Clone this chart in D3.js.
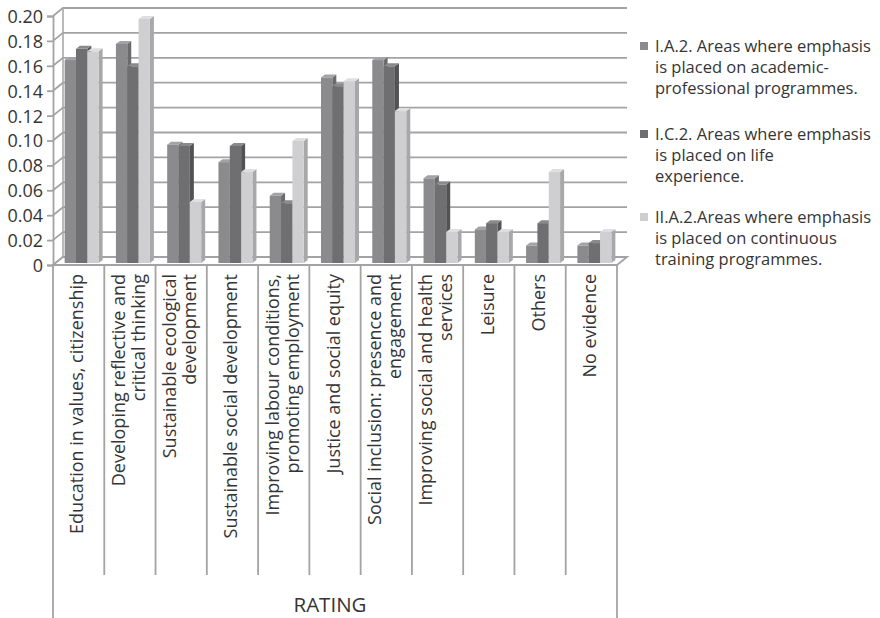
<!DOCTYPE html>
<html>
<head>
<meta charset="utf-8">
<script src="https://cdn.jsdelivr.net/npm/d3@7"></script>
<style>
  html, body { margin: 0; padding: 0; background: #fff; }
  svg { display: block; font-family: "Open Sans", "DejaVu Sans", sans-serif; }
</style>
</head>
<body>
<svg id="chart" width="880" height="618"></svg>
<script>
// Categories (each entry lists the lines of its rotated label)
const categories = [
  ["Education in values, citizenship"],
  ["Developing reflective and", "critical thinking"],
  ["Sustainable ecological", "development"],
  ["Sustainable social development"],
  ["Improving labour conditions,", "promoting employment"],
  ["Justice and social equity"],
  ["Social inclusion: presence and", "engagement"],
  ["Improving social and health", "services"],
  ["Leisure"],
  ["Others"],
  ["No evidence"]
];

const seriesNames = [
  ["I.A.2. Areas where emphasis", "is placed on academic-", "professional programmes."],
  ["I.C.2. Areas where emphasis", "is placed on life", "experience."],
  ["II.A.2.Areas where emphasis", "is placed on continuous", "training programmes."]
];

const academicValues   = [0.163, 0.176, 0.095, 0.081, 0.054, 0.149, 0.163, 0.068, 0.027, 0.014, 0.014];
const lifeValues       = [0.172, 0.158, 0.094, 0.094, 0.048, 0.142, 0.158, 0.063, 0.032, 0.032, 0.016];
const continuousValues = [0.170, 0.196, 0.049, 0.073, 0.098, 0.146, 0.122, 0.025, 0.025, 0.073, 0.025];

const yTicks = [0, 0.02, 0.04, 0.06, 0.08, 0.10, 0.12, 0.14, 0.16, 0.18, 0.20];

const seriesValues = [academicValues, lifeValues, continuousValues];

// Face colours per series: front, side, top
const faces = [
  { front: "#8b8b8d", side: "#6b6b6d", top: "#a3a3a5" },
  { front: "#6f6f71", side: "#525254", top: "#8a8a8c" },
  { front: "#cfcfd1", side: "#a8a8aa", top: "#dfdfe1" }
];

const svg = d3.select("#chart");
const gridColor = "#a3a3a3";
const textColor = "#353535";

// Oblique depth of the plot box
const DX = 10, DY = -8;
const left = 53, right = 617;

const y = d3.scaleLinear().domain([0, 0.20]).range([265, 16]);
const x = d3.scaleBand().domain(d3.range(categories.length)).range([left, right]);

// Back wall gridlines with their side-wall diagonals
const grid = svg.append("g");
yTicks.forEach(t => {
  const yy = y(t);
  grid.append("path")
    .attr("d", `M${left},${yy}L${left + DX},${yy + DY}L${right + DX},${yy + DY}`)
    .attr("fill", "none").attr("stroke", gridColor).attr("stroke-width", 1.8);
});

// Back wall left edge
grid.append("line")
  .attr("x1", left + DX).attr("x2", left + DX)
  .attr("y1", y(0.20) + DY).attr("y2", y(0) + DY)
  .attr("stroke", gridColor).attr("stroke-width", 1.5);

// Floor
grid.append("path")
  .attr("d", `M${left},${y(0)}L${right},${y(0)}L${right + DX},${y(0) + DY}L${left + DX},${y(0) + DY}Z`)
  .attr("fill", "#fff").attr("stroke", gridColor).attr("stroke-width", 1.8);

// Value axis (front edge) with ticks and labels
const yAxis = d3.axisLeft(y).tickValues(yTicks).tickSize(6).tickPadding(4)
  .tickFormat(d => d === 0 ? "0" : d3.format(".2f")(d));
const ya = svg.append("g").attr("transform", `translate(${left},0)`).call(yAxis);
ya.select(".domain").attr("stroke", gridColor).attr("stroke-width", 1.8);
ya.selectAll(".tick line").attr("stroke", gridColor).attr("stroke-width", 1.8);
ya.selectAll(".tick text").attr("fill", textColor).style("font-size", "18px")
  .style("font-family", "'Open Sans', sans-serif").attr("dy", "0.36em");

// Bars
const clusterW = 34;
const inner = d3.scaleBand().domain([0, 1, 2]).range([0, clusterW]);
const bdx = 3, bdy = -2;      // bar plane depth offset
const sdx = 4, sdy = -3;      // bar thickness in depth
const bars = svg.append("g");
categories.forEach((c, i) => {
  const x0 = x(i) + (x.bandwidth() - clusterW) / 2 + bdx;
  seriesValues.forEach((vals, s) => {
    const bx = x0 + inner(s), bw = inner.bandwidth();
    const yb = y(0) + bdy, yt = y(vals[i]) + bdy;
    const f = faces[s];
    bars.append("path")
      .attr("d", `M${bx + bw},${yb}L${bx + bw + sdx},${yb + sdy}L${bx + bw + sdx},${yt + sdy}L${bx + bw},${yt}Z`)
      .attr("fill", f.side);
    bars.append("path")
      .attr("d", `M${bx},${yt}L${bx + sdx},${yt + sdy}L${bx + bw + sdx},${yt + sdy}L${bx + bw},${yt}Z`)
      .attr("fill", f.top);
    bars.append("rect")
      .attr("x", bx).attr("y", yt).attr("width", bw).attr("height", yb - yt)
      .attr("fill", f.front);
  });
});

// Category axis frame below the floor
const catAxis = svg.append("g");
catAxis.append("line").attr("x1", left).attr("x2", left).attr("y1", y(0)).attr("y2", 618)
  .attr("stroke", gridColor).attr("stroke-width", 1.8);
catAxis.append("line").attr("x1", right).attr("x2", right).attr("y1", y(0)).attr("y2", 618)
  .attr("stroke", gridColor).attr("stroke-width", 1.8);
d3.range(1, categories.length).forEach(i => {
  catAxis.append("line").attr("x1", x(i)).attr("x2", x(i)).attr("y1", y(0)).attr("y2", 575)
    .attr("stroke", gridColor).attr("stroke-width", 1.8);
});

// Rotated category labels
const fs = 18, lh = 20;
categories.forEach((lines, i) => {
  const cx = x(i) + x.bandwidth() / 2 - 1.5;
  lines.forEach((ln, j) => {
    const bx = cx + (j - (lines.length - 1) / 2) * lh + 0.35 * fs;
    svg.append("text")
      .attr("transform", `translate(${bx},274) rotate(-90)`)
      .attr("text-anchor", "end")
      .attr("fill", textColor)
      .style("font-size", fs + "px")
      .text(ln);
  });
});

svg.append("text")
  .attr("x", 330).attr("y", 612)
  .attr("text-anchor", "middle").attr("fill", textColor)
  .style("font-size", "20.5px").text("RATING");

// Legend
const legendY = [46, 134, 217];
seriesNames.forEach((lines, s) => {
  const g = svg.append("g").attr("transform", `translate(640,${legendY[s]})`);
  g.append("rect").attr("x", 0).attr("y", -4).attr("width", 8).attr("height", 8)
    .attr("fill", faces[s].front);
  lines.forEach((ln, j) => {
    g.append("text").attr("x", 15).attr("y", j * 21).attr("dy", "0.35em")
      .attr("fill", textColor).style("font-size", "16.5px").text(ln);
  });
});
</script>
</body>
</html>
